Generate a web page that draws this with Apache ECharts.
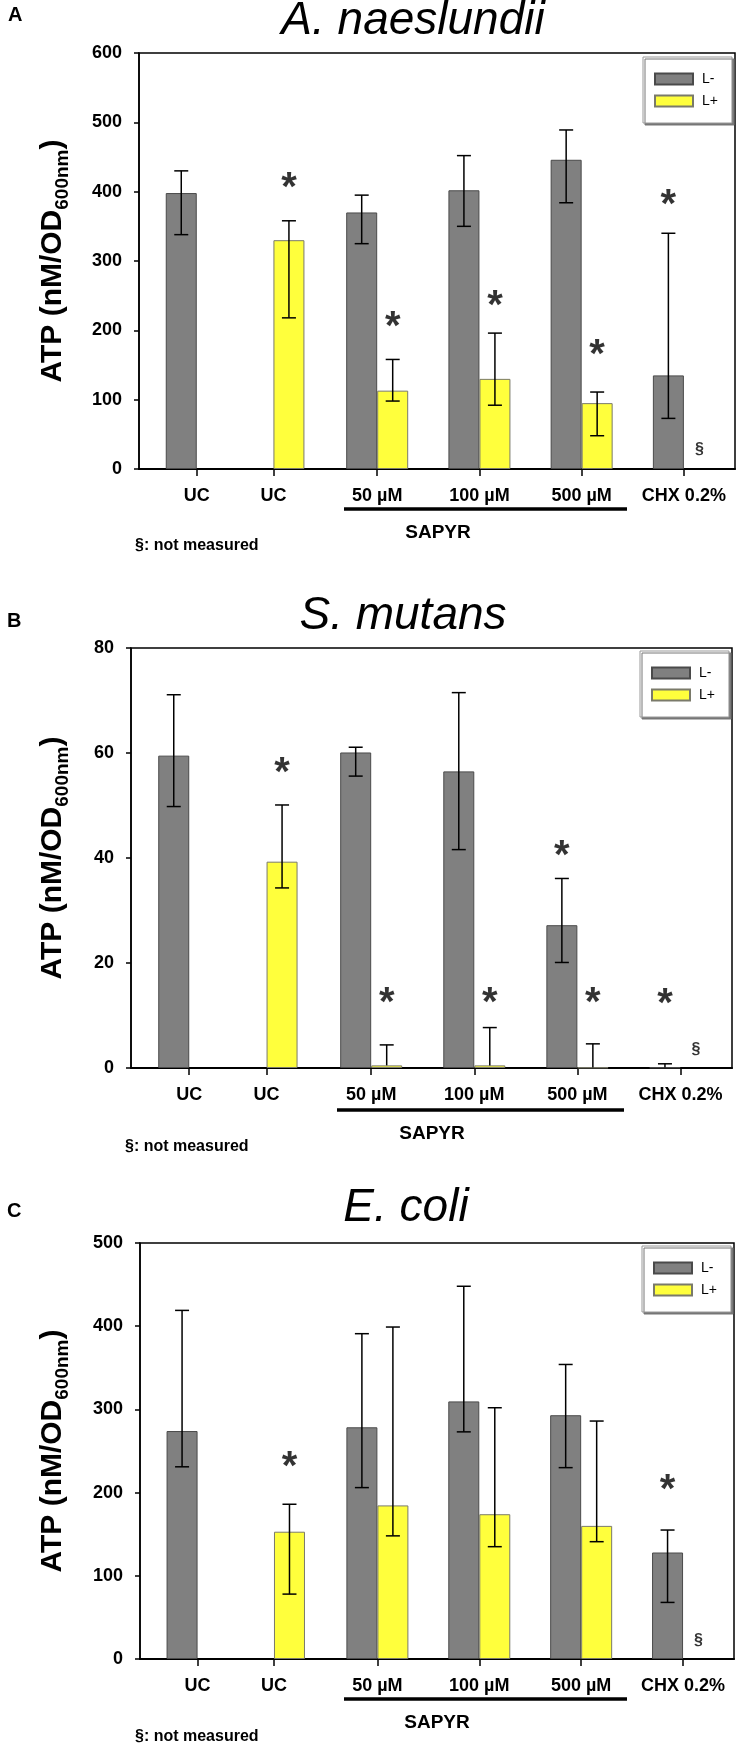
<!DOCTYPE html>
<html><head><meta charset="utf-8">
<script src="https://cdn.jsdelivr.net/npm/echarts@6/dist/echarts.min.js"></script>
<style>html,body{margin:0;padding:0;background:#fff}#c{width:739px;height:1748px}</style>
</head><body><div id="c"></div>
<script>
// ---------- data ----------
const categories = ['UC', 'UC', '50 µM', '100 µM', '500 µM', 'CHX 0.2%'];
const categoryPositions = [0.235, 0.985, 2, 3, 4, 5];
const seriesNames = ['L-', 'L+'];

// Panel A: A. naeslundii
const aTitle = 'A. naeslundii';
const aYTicks = [0, 100, 200, 300, 400, 500, 600];
const aLminus = [398, null, 370, 402, 446, 135];
const aLminusLow = [338, null, 325, 350, 384, 73];
const aLminusHigh = [430, null, 395, 452, 489, 340];
const aLplus = [null, 330, 113, 130, 95, null];
const aLplusLow = [null, 218, 98, 92, 48, null];
const aLplusHigh = [null, 358, 158, 196, 111, null];
const aStarLminus = [null, null, null, null, null, 392];
const aStarLplus = [null, 417, 216, 247, 176, null];
const aNotMeasuredLplus = [null, null, null, null, null, 28];

// Panel B: S. mutans
const bTitle = 'S. mutans';
const bYTicks = [0, 20, 40, 60, 80];
const bLminus = [59.5, null, 60.1, 56.5, 27.2, 0.1];
const bLminusLow = [49.8, null, 55.6, 41.6, 20.1, 0.1];
const bLminusHigh = [71.1, null, 61.1, 71.5, 36.1, 0.8];
const bLplus = [null, 39.3, 0.5, 0.5, 0.1, null];
const bLplusLow = [null, 34.3, 0.5, 0.5, 0.1, null];
const bLplusHigh = [null, 50.1, 4.4, 7.7, 4.6, null];
const bStarLminus = [null, null, null, null, 42, 13.7];
const bStarLplus = [null, 57.8, 14, 14, 14, null];
const bNotMeasuredLplus = [null, null, null, null, null, 3.5];

// Panel C: E. coli
const cTitle = 'E. coli';
const cYTicks = [0, 100, 200, 300, 400, 500];
const cLminus = [274, null, 278.5, 309.6, 293, 128];
const cLminusLow = [231, null, 206, 273, 230, 68];
const cLminusHigh = [419, null, 391, 448, 354, 155];
const cLplus = [null, 153, 184.6, 174, 160, null];
const cLplusLow = [null, 78, 148, 135, 141, null];
const cLplusHigh = [null, 186, 399, 302, 286, null];
const cStarLminus = [null, null, null, null, null, 213];
const cStarLplus = [null, 241, null, null, null, null];
const cNotMeasuredLplus = [null, null, null, null, null, 22.6];

const yAxisName = ['ATP (nM/OD', '600nm', ')'];
const sapyrLabel = 'SAPYR';
const notMeasuredNote = '§: not measured';
const panelLetters = ['A', 'B', 'C'];

// ---------- layout / style ----------
const FONT = '"Liberation Sans", Arial, Helvetica, sans-serif';
const BAR_W = 31;
const HALF = BAR_W / 2;
const GRAY = '#808080';
const YELLOW = '#ffff3c';

const panels = [
  { title: aTitle, ticks: aYTicks, lm: aLminus, lmLo: aLminusLow, lmHi: aLminusHigh,
    lp: aLplus, lpLo: aLplusLow, lpHi: aLplusHigh, sm: aStarLminus, sp: aStarLplus, nm: aNotMeasuredLplus,
    grid: { left: 139, right: 4, top: 53, height: 416 },
    legend: { left: 643, top: 57 },
    titlePos: [413, 21], letterPos: [8, 15], sapyr: [438, 533], line: [344, 627, 509], note: [135, 546] },
  { title: bTitle, ticks: bYTicks, lm: bLminus, lmLo: bLminusLow, lmHi: bLminusHigh,
    lp: bLplus, lpLo: bLplusLow, lpHi: bLplusHigh, sm: bStarLminus, sp: bStarLplus, nm: bNotMeasuredLplus,
    grid: { left: 131, right: 7, top: 648, height: 420 },
    legend: { left: 640, top: 651 },
    titlePos: [403, 616.5], letterPos: [7, 621], sapyr: [432, 1134], line: [337, 624, 1110], note: [125, 1147] },
  { title: cTitle, ticks: cYTicks, lm: cLminus, lmLo: cLminusLow, lmHi: cLminusHigh,
    lp: cLplus, lpLo: cLplusLow, lpHi: cLplusHigh, sm: cStarLminus, sp: cStarLplus, nm: cNotMeasuredLplus,
    grid: { left: 140, right: 5, top: 1243, height: 416 },
    legend: { left: 642, top: 1246 },
    titlePos: [406, 1208.5], letterPos: [7, 1211.5], sapyr: [437, 1722.5], line: [344, 627, 1699], note: [135, 1737] }
];

function labelFor(v) {
  const i = categoryPositions.findIndex(p => Math.abs(p - v) < 1e-6);
  return i >= 0 ? categories[i] : '';
}

function barData(vals) {
  const out = [];
  vals.forEach((v, i) => { if (v !== null) out.push([categoryPositions[i], v]); });
  return out;
}
function errData(vals, lo, hi) {
  const out = [];
  vals.forEach((v, i) => { if (v !== null) out.push([categoryPositions[i], lo[i], hi[i], v]); });
  return out;
}
function pointData(vals) {
  const out = [];
  vals.forEach((v, i) => { if (v !== null) out.push([categoryPositions[i], v]); });
  return out;
}
function errRender(side) {
  return function (params, api) {
    const x = api.value(0), lo = api.value(1), hi = api.value(2), v = api.value(3);
    const pLo = api.coord([x, lo]);
    const pHi = api.coord([x, hi]);
    const cx = pLo[0] + side * HALF;
    const st = { stroke: '#000', lineWidth: 1.5 };
    const children = [
      { type: 'line', shape: { x1: cx, y1: pLo[1], x2: cx, y2: pHi[1] }, style: st },
      { type: 'line', shape: { x1: cx - 7, y1: pHi[1], x2: cx + 7, y2: pHi[1] }, style: st }
    ];
    if (lo < v) children.push({ type: 'line', shape: { x1: cx - 7, y1: pLo[1], x2: cx + 7, y2: pLo[1] }, style: st });
    return { type: 'group', children };
  };
}

const grids = [], xAxes = [], yAxes = [], series = [], legends = [], graphics = [];

panels.forEach((p, k) => {
  grids.push(Object.assign({ show: true, borderColor: '#000', borderWidth: 1.5, backgroundColor: 'transparent' }, p.grid));
  xAxes.push({
    type: 'value', gridIndex: k, min: -0.33, max: 5.5,
    axisLine: { show: true, onZero: false, lineStyle: { color: '#000', width: 2 } },
    axisTick: { show: true, customValues: categoryPositions, length: 7, lineStyle: { color: '#000', width: 1.5 } },
    axisLabel: { show: true, customValues: categoryPositions, formatter: labelFor, margin: 18,
      fontSize: 18, fontWeight: 'bold', color: '#000', fontFamily: FONT },
    splitLine: { show: false }
  });
  const tk = p.ticks;
  yAxes.push({
    type: 'value', gridIndex: k, min: tk[0], max: tk[tk.length - 1], interval: tk[1] - tk[0],
    axisLine: { show: true, onZero: false, lineStyle: { color: '#000', width: 1.5 } },
    axisTick: { show: true, length: 5, lineStyle: { color: '#000', width: 1.5 } },
    axisLabel: { margin: 17, fontSize: 18, fontWeight: 'bold', color: '#000', fontFamily: FONT },
    splitLine: { show: false }
  });
  series.push({
    type: 'bar', name: seriesNames[0], xAxisIndex: k, yAxisIndex: k, data: barData(p.lm),
    barWidth: BAR_W, barGap: '0%',
    itemStyle: { color: GRAY, borderColor: '#4a4a4a', borderWidth: 1 }
  });
  series.push({
    type: 'bar', name: seriesNames[1], xAxisIndex: k, yAxisIndex: k, data: barData(p.lp),
    barWidth: BAR_W, barGap: '0%',
    itemStyle: { color: YELLOW, borderColor: '#7a7a6a', borderWidth: 1 }
  });
  series.push({
    type: 'custom', name: 'errm' + k, xAxisIndex: k, yAxisIndex: k, renderItem: errRender(-1),
    data: errData(p.lm, p.lmLo, p.lmHi), z: 5, clip: false
  });
  series.push({
    type: 'custom', name: 'errp' + k, xAxisIndex: k, yAxisIndex: k, renderItem: errRender(1),
    data: errData(p.lp, p.lpLo, p.lpHi), z: 5, clip: false
  });
  const starLabel = (dx) => ({ show: true, position: 'inside', formatter: '*', offset: [dx, 9],
    fontSize: 40, fontWeight: 'bold', color: '#000', fontFamily: FONT });
  series.push({
    type: 'scatter', name: 'starm' + k, xAxisIndex: k, yAxisIndex: k, data: pointData(p.sm),
    symbol: 'circle', symbolSize: 1, itemStyle: { color: 'rgba(0,0,0,0)' }, label: starLabel(-HALF), z: 6, silent: true
  });
  series.push({
    type: 'scatter', name: 'starp' + k, xAxisIndex: k, yAxisIndex: k, data: pointData(p.sp),
    symbol: 'circle', symbolSize: 1, itemStyle: { color: 'rgba(0,0,0,0)' }, label: starLabel(HALF), z: 6, silent: true
  });
  series.push({
    type: 'scatter', name: 'nm' + k, xAxisIndex: k, yAxisIndex: k, data: pointData(p.nm),
    symbol: 'circle', symbolSize: 1, itemStyle: { color: 'rgba(0,0,0,0)' },
    label: { show: true, position: 'inside', formatter: '§', offset: [HALF, 0], fontSize: 16, fontWeight: 'bold', color: '#000', fontFamily: FONT },
    z: 6, silent: true
  });
  legends.push({
    data: seriesNames, orient: 'vertical', left: p.legend.left, top: p.legend.top,
    itemWidth: 38, itemHeight: 11, itemGap: 8, padding: [15, 14, 15, 11],
    borderColor: '#999', borderWidth: 1, backgroundColor: '#fff',
    shadowColor: '#777', shadowOffsetX: 2, shadowOffsetY: 2, shadowBlur: 0,
    icon: 'rect', selectedMode: false,
    textStyle: { fontSize: 14, color: '#000', fontFamily: FONT, padding: [0, 0, 0, 4] }
  });
  // titles & annotations
  graphics.push({ type: 'text', x: p.titlePos[0], y: p.titlePos[1],
    style: { text: p.title, font: 'italic 46px ' + FONT, fill: '#000', align: 'center', verticalAlign: 'middle' } });
  graphics.push({ type: 'text', x: p.letterPos[0], y: p.letterPos[1],
    style: { text: panelLetters[k], font: 'bold 20px ' + FONT, fill: '#000', align: 'left', verticalAlign: 'middle' } });
  graphics.push({ type: 'text', x: 53, y: p.grid.top + p.grid.height / 2, rotation: Math.PI / 2,
    style: { text: '{a|' + yAxisName[0] + '}{b|' + yAxisName[1] + '}{a|' + yAxisName[2] + '}',
      align: 'center', verticalAlign: 'middle', fill: '#000',
      rich: {
        a: { font: 'bold 30px ' + FONT, fill: '#000', verticalAlign: 'top', lineHeight: 30 },
        b: { font: 'bold 19px ' + FONT, fill: '#000', verticalAlign: 'top', lineHeight: 19, padding: [15, 0, 0, 0] }
      } } });
  graphics.push({ type: 'text', x: p.sapyr[0], y: p.sapyr[1],
    style: { text: sapyrLabel, font: 'bold 19px ' + FONT, fill: '#000', align: 'center', verticalAlign: 'middle' } });
  graphics.push({ type: 'line', shape: { x1: p.line[0], y1: p.line[2], x2: p.line[1], y2: p.line[2] },
    style: { stroke: '#000', lineWidth: 3.5 } });
  graphics.push({ type: 'text', x: p.note[0], y: p.note[1],
    style: { text: notMeasuredNote, font: 'bold 16px ' + FONT, fill: '#000', align: 'left', verticalAlign: 'middle' } });
});

const chart = echarts.init(document.getElementById('c'), null, { renderer: 'canvas' });
chart.setOption({
  animation: false,
  backgroundColor: '#fff',
  grid: grids, xAxis: xAxes, yAxis: yAxes, series: series, legend: legends, graphic: graphics,
  tooltip: { show: false }
});
</script>
</body></html>
